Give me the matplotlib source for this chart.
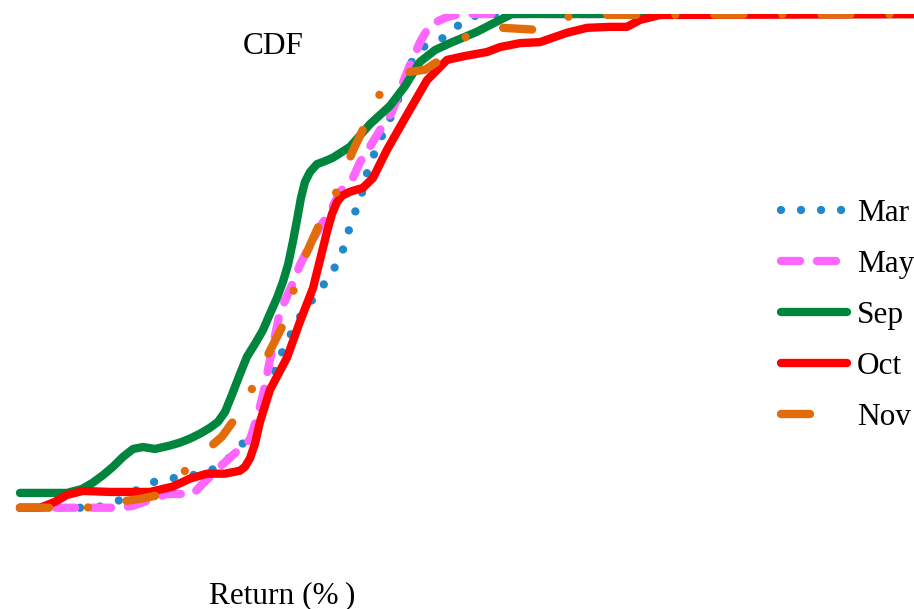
import matplotlib
matplotlib.use("Agg")
import matplotlib.pyplot as plt

plt.rcParams["font.family"] = ["Liberation Serif", "DejaVu Serif"]
plt.rcParams["lines.scale_dashes"] = False

# Empirical CDFs of monthly returns (return in %, cumulative probability)
mar_x = [-6.0, -4.125, -3.625, -3.175, -2.725, -2.25, -1.75, -1.275, -0.85, -0.5, -0.2, 0.0,
         0.175, 0.5, 0.725, 0.95, 1.25, 1.55, 1.825, 2.05, 2.2, 2.35, 2.525, 2.65, 2.825,
         3.025, 3.225, 3.5, 3.775, 4.075, 4.5, 4.875, 5.25, 5.625, 17.0]
mar_y = [0.0, 0.0, 0.010, 0.032, 0.051, 0.059, 0.065, 0.073, 0.095, 0.123, 0.154, 0.188,
         0.233, 0.306, 0.344, 0.381, 0.415, 0.447, 0.480, 0.516, 0.557, 0.593, 0.630, 0.672,
         0.711, 0.749, 0.783, 0.836, 0.901, 0.933, 0.947, 0.972, 0.994, 1.0, 1.0]

may_x = [-6.0, -3.5, -3.175, -2.675, -2.325, -1.675, -1.425, -1.0, -0.675, -0.25, -0.075,
         0.075, 0.25, 0.5, 0.8, 1.0, 1.25, 1.5, 1.75, 2.0, 2.3, 2.5, 2.7, 3.0, 3.3, 3.5,
         3.75, 4.0, 4.25, 4.675, 5.0, 17.0]
may_y = [0.0, 0.0, 0.004, 0.018, 0.028, 0.028, 0.049, 0.083, 0.107, 0.138, 0.182, 0.229,
         0.300, 0.397, 0.451, 0.492, 0.532, 0.569, 0.599, 0.640, 0.664, 0.700, 0.725, 0.765,
         0.802, 0.846, 0.897, 0.943, 0.978, 0.994, 1.0, 1.0]

sep_x = [-6.0, -4.825, -4.45, -4.175, -3.925, -3.675, -3.425, -3.175, -2.925, -2.625, -2.25,
         -2.0, -1.75, -1.5, -1.25, -1.05, -0.875, -0.7, -0.5, -0.325, -0.125, 0.075, 0.25,
         0.425, 0.575, 0.7, 0.825, 0.925, 1.025, 1.125, 1.25, 1.425, 1.625, 1.825, 2.25, 2.75,
         3.25, 3.625, 4.0, 4.375, 4.75, 5.425, 6.0, 6.3, 17.0]
sep_y = [0.030, 0.030, 0.038, 0.051, 0.066, 0.083, 0.103, 0.119, 0.123, 0.119, 0.126,
         0.132, 0.140, 0.150, 0.162, 0.174, 0.194, 0.229, 0.271, 0.306, 0.332, 0.360, 0.393,
         0.425, 0.458, 0.492, 0.540, 0.583, 0.628, 0.660, 0.680, 0.696, 0.702, 0.709, 0.731,
         0.777, 0.814, 0.854, 0.903, 0.927, 0.941, 0.964, 0.988, 1.0, 1.0]

oct_x = [-6.0, -5.5, -5.125, -4.825, -4.425, -3.75, -2.75, -2.175, -1.75, -1.325, -0.875,
         -0.5, -0.375, -0.25, -0.125, 0.0, 0.25, 0.675, 1.0, 1.325, 1.675, 1.8, 1.925, 2.05,
         2.25, 2.575, 2.825, 3.175, 3.675, 4.175, 4.675, 5.125, 5.675, 6.0, 6.5, 7.0, 7.675,
         8.175, 8.75, 9.175, 9.5, 10.0, 17.0]
oct_y = [0.0, 0.0, 0.012, 0.026, 0.034, 0.032, 0.032, 0.043, 0.059, 0.069, 0.069, 0.075,
         0.083, 0.100, 0.130, 0.174, 0.239, 0.304, 0.377, 0.445, 0.559, 0.595, 0.619, 0.632,
         0.640, 0.648, 0.668, 0.725, 0.796, 0.866, 0.907, 0.915, 0.923, 0.933, 0.941, 0.943,
         0.962, 0.972, 0.974, 0.974, 0.988, 0.998, 1.0]

nov_x = [-6.0, -4.35, -3.875, -3.5, -3.0, -2.625, -2.3, -1.925, -1.575, -1.25, -0.95, -0.7,
         -0.375, -0.2, 0.0, 0.2, 0.55, 0.7, 0.85, 1.0, 1.175, 1.5, 1.75, 1.95, 2.125, 2.3,
         2.625, 2.875, 3.05, 3.375, 3.75, 4.125, 4.5, 4.875, 5.2, 5.625, 6.075, 6.925, 7.375,
         7.825, 17.0]
nov_y = [0.0, 0.0, 0.006, 0.012, 0.018, 0.024, 0.040, 0.071, 0.097, 0.123, 0.144, 0.172,
         0.209, 0.241, 0.275, 0.310, 0.366, 0.405, 0.443, 0.482, 0.518, 0.577, 0.613, 0.646,
         0.684, 0.719, 0.775, 0.816, 0.848, 0.870, 0.883, 0.887, 0.907, 0.937, 0.957, 0.968,
         0.972, 0.968, 0.984, 0.998, 1.0]

labels = ["Mar", "May", "Sep", "Oct", "Nov"]
colors = ["#2288cc", "#ff66ff", "#00853e", "#ff0000", "#e36c0a"]

fig = plt.figure(figsize=(9.14, 6.09), dpi=100)
ax = fig.add_axes([0.0, 0.069, 1.0, 0.908])

lw = 6
series = [(mar_x, mar_y), (may_x, may_y), (sep_x, sep_y), (oct_x, oct_y), (nov_x, nov_y)]
styles = [
    (0, (0.01, 14.4)),              # dotted
    (0, (13.7, 12.2)),              # dashed
    "-",
    "-",
    (0, (20.9, 28.1, 0.01, 28.1)),  # dash-dot
]
for (xs, ys), lab, col, ls in zip(series, labels, colors, styles):
    ax.plot(xs, ys, color=col, lw=lw, ls=ls, label=lab,
            solid_capstyle="round", dash_capstyle="round",
            solid_joinstyle="round", dash_joinstyle="round")

ax.set_xlim(-6.5, 16.35)
ax.set_ylim(-0.12, 1.0)
ax.axis("off")

fs = 22.5
fig.text(273 / 914, 1 - 53.5 / 609, "CDF", ha="center", va="baseline", fontsize=fs)
fig.text(282 / 914, 1 - 603.5 / 609, "Return (%\u2009)", ha="center", va="baseline", fontsize=fs)

handles, labs = ax.get_legend_handles_labels()
fig.legend(handles, labs, loc="center left", bbox_to_anchor=(781 / 914, 1 - 315.5 / 609),
           frameon=False, fontsize=fs, borderpad=0, borderaxespad=0,
           handlelength=2.12, handletextpad=0.3, labelspacing=0.7)

fig.savefig("out.png", dpi=100)
